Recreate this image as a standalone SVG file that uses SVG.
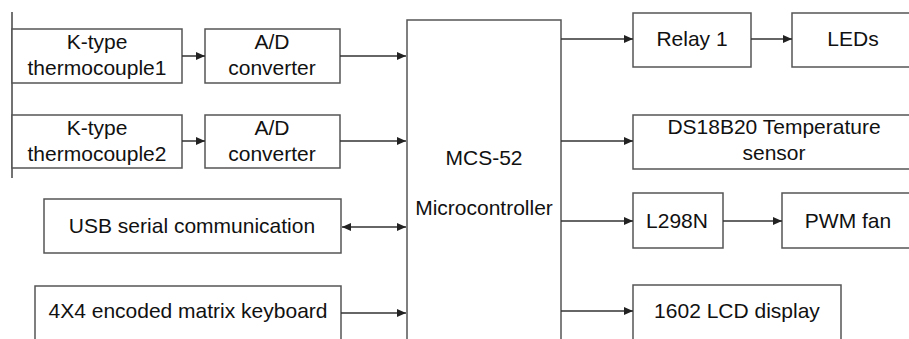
<svg xmlns="http://www.w3.org/2000/svg" width="909" height="339" viewBox="0 0 909 339">
<defs>
<marker id="ah" markerWidth="9" markerHeight="8" refX="9" refY="4" orient="auto" markerUnits="userSpaceOnUse">
<path d="M0,0 L9,4 L0,8 Z" fill="#222"/>
</marker>
<marker id="ahs" markerWidth="9" markerHeight="8" refX="0" refY="4" orient="auto" markerUnits="userSpaceOnUse">
<path d="M9,0 L0,4 L9,8 Z" fill="#222"/>
</marker>
<style>
.b{fill:#fff;stroke:#555;stroke-width:1.5}
.t{font-family:"Liberation Sans",Arial,sans-serif;font-size:21px;fill:#111;text-anchor:middle}
.c{stroke:#333;stroke-width:1.5;fill:none;marker-end:url(#ah)}
</style>
</defs>
<rect width="909" height="339" fill="#fff"/>
<line x1="12" y1="12" x2="12" y2="178" stroke="#444" stroke-width="1.5"/>
<g id="tc1"><rect class="b" x="12" y="29" width="170" height="54"/><text class="t" x="97" y="49">K-type</text><text class="t" x="97" y="75">thermocouple1</text></g>
<g id="ad1"><rect class="b" x="205" y="29" width="135" height="54"/><text class="t" x="272" y="49">A/D</text><text class="t" x="272" y="75">converter</text></g>
<g id="tc2"><rect class="b" x="12" y="115" width="170" height="53"/><text class="t" x="97" y="135">K-type</text><text class="t" x="97" y="161">thermocouple2</text></g>
<g id="ad2"><rect class="b" x="205" y="115" width="135" height="53"/><text class="t" x="272" y="135">A/D</text><text class="t" x="272" y="161">converter</text></g>
<g id="usb"><rect class="b" x="44" y="199" width="297" height="54"/><text class="t" x="192" y="233">USB serial communication</text></g>
<g id="kbd"><rect class="b" x="35" y="286" width="306" height="70"/><text class="t" x="188" y="318">4X4 encoded matrix keyboard</text></g>
<g id="mcu"><rect class="b" x="407" y="20" width="154" height="340"/><text class="t" x="484" y="165">MCS-52</text><text class="t" x="484" y="215">Microcontroller</text></g>
<g id="relay"><rect class="b" x="633" y="13" width="118" height="54"/><text class="t" x="692" y="46">Relay 1</text></g>
<g id="leds"><rect class="b" x="792" y="13" width="124" height="54"/><text class="t" x="853" y="46">LEDs</text></g>
<g id="ds"><rect class="b" x="633" y="115" width="284" height="54"/><text class="t" x="774" y="134">DS18B20 Temperature</text><text class="t" x="774" y="160">sensor</text></g>
<g id="l298"><rect class="b" x="633" y="193" width="90" height="55"/><text class="t" x="677" y="228">L298N</text></g>
<g id="pwm"><rect class="b" x="782" y="193" width="134" height="55"/><text class="t" x="848" y="228">PWM fan</text></g>
<g id="lcd"><rect class="b" x="633" y="285" width="208" height="70"/><text class="t" x="737" y="318">1602 LCD display</text></g>
<g id="connectors">
<line class="c" x1="182" y1="56" x2="205" y2="56"/>
<line class="c" x1="340" y1="56" x2="406" y2="56"/>
<line class="c" x1="182" y1="141" x2="205" y2="141"/>
<line class="c" x1="340" y1="141" x2="406" y2="141"/>
<line class="c" x1="342" y1="227" x2="406" y2="227" style="marker-start:url(#ahs)"/>
<line class="c" x1="341" y1="313" x2="406" y2="313"/>
<line class="c" x1="561" y1="39" x2="633" y2="39"/>
<line class="c" x1="751" y1="39" x2="792" y2="39"/>
<line class="c" x1="561" y1="141" x2="633" y2="141"/>
<line class="c" x1="561" y1="221" x2="633" y2="221"/>
<line class="c" x1="723" y1="221" x2="782" y2="221"/>
<line class="c" x1="561" y1="311" x2="633" y2="311"/>
</g>
</svg>
